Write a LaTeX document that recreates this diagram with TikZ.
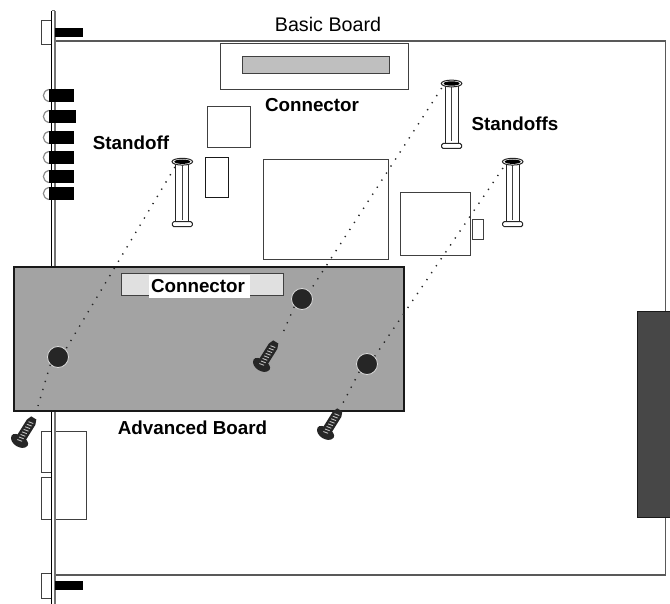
\documentclass[tikz,border=0pt]{standalone}
\usepackage{fontspec}
\setmainfont{Liberation Sans}
\usetikzlibrary{positioning, calc}

\tikzset{
  part/.style={draw=black!75, line width=1pt, fill=white},
  bar/.style={fill=black},
  label/.style={font=\fontsize{18.8}{20}\selectfont\bfseries, inner sep=0pt},
  guide/.style={black!85, line width=1.4pt, dash pattern=on 1.3pt off 7.1pt},
  hole/.style={circle, draw=black!15, line width=0.8pt, fill=black!85, minimum size=21pt, inner sep=0pt},
  standoff/.pic={
    \draw[part, draw=black!85] (-6.5,0) rectangle (6.5,62);
    \draw[black!75, line width=0.8pt] (0,3) -- (0,58);
    \draw[part, draw=black!85, rounded corners=1.5pt] (-10,60) rectangle (10,65);
    \draw[part, draw=black!85] (0,0) ellipse (10.3 and 3.4);
    \fill[black] (0,0) ellipse (8 and 2.2);
  },
  screw/.pic={
    \fill[black!85] (-5,-1) -- (-5,-21) -- (-3,-26) -- (3,-26) -- (5,-21) -- (5,-1) -- cycle;
    \fill[black!85] (-9.5,1) .. controls (-10,-6) and (10,-6) .. (9.5,1) .. controls (8,9) and (-8,9) .. (-9.5,1) -- cycle;
    \foreach \t in {-20,-17,...,1}
      \draw[black!25, line width=0.9pt] (-2.5,\t) -- (2.5,\t-1);
  }
}

\begin{document}
\begin{tikzpicture}[x=1pt, y=-1pt]
\useasboundingbox (0,0) rectangle (670,604);
\fill[white] (0,0) rectangle (670,604);

\draw[black!65, line width=1.1pt] (55,41) -- (665.5,41) -- (665.5,575) -- (55,575);
\fill[black!72] (637.5,312) rectangle (670,517.5);
\draw[black!90, line width=1pt] (670,312) -- (637.5,312) -- (637.5,517.5) -- (670,517.5);

\draw[part] (41,20.5) rectangle (52,45);
\draw[part] (41,431) rectangle (52,472);
\draw[part] (41,477) rectangle (52,519);
\draw[part] (54,431) rectangle (86,519.5);
\draw[part] (41,573) rectangle (52,598);
\fill[white] (51.5,11) rectangle (55,604);
\draw[black, line width=1.1pt] (51.5,11) -- (51.5,604);
\draw[black!55, line width=1.1pt] (55,11) -- (55,604);
\draw[black!55, line width=1pt] (51.5,11) -- (55,11);
\fill[bar] (55,28) rectangle (83,37);
\fill[bar] (55,581) rectangle (83,590);

\foreach \y/\w in {89/74,110/75.5,131/74,151/74,170/74,187/74}
{
  \draw[black!45, line width=1.2pt] (49,\y+0.5) .. controls (41.5,\y+2) and (41.5,\y+11) .. (49,\y+12.5);
  \fill[bar] (49,\y) rectangle (\w,\y+13);
}

\draw[part] (220,44) rectangle (408,90);
\draw[part, fill=black!25] (242,56.5) rectangle (389,74);
\draw[part] (207.5,107) rectangle (250,148);
\draw[part, draw=black!90] (205.5,158) rectangle (228,197.5);
\draw[part] (263,160) rectangle (388,260);
\draw[part] (400,193) rectangle (470,256);
\draw[part] (472,219.5) rectangle (483.5,239.5);

\draw[black!90, line width=1.1pt, fill=black!36] (14,267) rectangle (404,411);
\draw[part, fill=black!12] (121,273.5) rectangle (283,296);

\node[hole] (holeA) at (58,357) {};
\node[hole] (holeB) at (302,299) {};
\node[hole] (holeC) at (367,364) {};

\pic at (182.3,161.7) {standoff};
\pic at (451.6,83.5) {standoff};
\pic at (512.7,161.7) {standoff};

\coordinate (topA) at (175,167);
\coordinate (topB) at (441.7,88);
\coordinate (topC) at (503,168);
\coordinate (tipA) at (38,406);
\coordinate (tipB) at (282,335);
\coordinate (tipC) at (343,403);
\draw[guide] (topA) -- (holeA.north east);
\draw[guide] (holeA.south west) -- (tipA);
\draw[guide] (topB) -- (holeB.north east);
\draw[guide] (holeB.south west) -- (tipB);
\draw[guide] (topC) -- (holeC.north east);
\draw[guide] (holeC.south west) -- (tipC);

\pic[rotate=-32] at (20,440) {screw};
\pic[rotate=-32] at (262,364) {screw};
\pic[rotate=-32] at (326,432) {screw};

\node[font=\fontsize{19.7}{20}\selectfont, inner sep=0pt] (basic) at (328,24) {Basic Board};
\node[label] (conn) at (312,105) {Connector};
\node[label] (standA) at (131,143) {Standoff};
\node[label] (standB) at (515,124) {Standoffs};
\node[fill=white, minimum width=101pt, minimum height=23.5pt, inner sep=0pt] (connbg) at (199.5,286.7) {};
\node[label] (connadv) at (198,286) {Connector};
\node[label] (advanced) at (192.5,428) {Advanced Board};
\end{tikzpicture}
\end{document}
